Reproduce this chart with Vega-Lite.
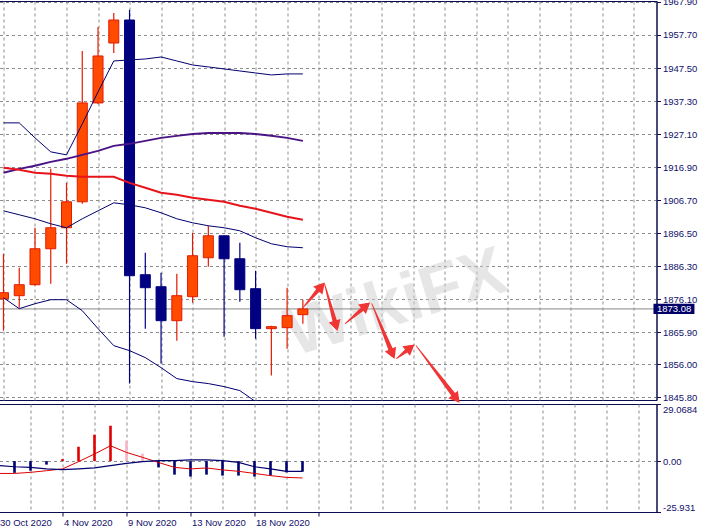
{
  "$schema": "https://vega.github.io/schema/vega-lite/v6.json",
  "background": "white",
  "padding": {"left": -4.5, "top": -4, "right": 0, "bottom": 0},
  "autosize": {"type": "pad"},
  "spacing": 4,
  "bounds": "flush",
  "config": {
    "view": {"stroke": "#0c0c50", "strokeWidth": 1},
    "axis": {"labelFont": "Liberation Sans", "labelFontSize": 9.5, "labelColor": "#10106a", "tickColor": "#0c0c50", "domainColor": "#0c0c50", "gridColor": "#8c8c8c", "gridDash": [3, 3], "gridWidth": 1, "labelOverlap": false, "labelSeparation": 0}
  },
  "datasets": {
    "candles": [
      {"i": 0, "date": "30 Oct 2020", "open": 1876.24, "high": 1890.13, "low": 1866.37, "close": 1878.09, "bbUp": 1930.55, "bbMid": 1903.39, "bbLow": 1876.55, "maP": 1915.12, "maR": 1916.66},
      {"i": 1, "date": "1 Nov 2020", "open": 1877.17, "high": 1885.81, "low": 1873.47, "close": 1880.56, "bbUp": 1930.55, "bbMid": 1902.16, "bbLow": 1873.16, "maP": 1916.35, "maR": 1916.05},
      {"i": 2, "date": "2 Nov 2020", "open": 1880.56, "high": 1898.15, "low": 1880.3, "close": 1891.67, "bbUp": 1925.92, "bbMid": 1900.93, "bbLow": 1874.7, "maP": 1917.28, "maR": 1915.12},
      {"i": 3, "date": "3 Nov 2020", "open": 1891.67, "high": 1916.35, "low": 1880.87, "close": 1898.15, "bbUp": 1921.6, "bbMid": 1899.38, "bbLow": 1875.93, "maP": 1918.51, "maR": 1914.81},
      {"i": 4, "date": "4 Nov 2020", "open": 1898.15, "high": 1912.03, "low": 1887.04, "close": 1906.17, "bbUp": 1920.67, "bbMid": 1898.15, "bbLow": 1875.93, "maP": 1919.44, "maR": 1914.19},
      {"i": 5, "date": "5 Nov 2020", "open": 1906.17, "high": 1952.76, "low": 1905.55, "close": 1936.72, "bbUp": 1930.24, "bbMid": 1900.93, "bbLow": 1872.54, "maP": 1920.67, "maR": 1913.89},
      {"i": 6, "date": "6 Nov 2020", "open": 1936.72, "high": 1960.17, "low": 1936.3, "close": 1951.22, "bbUp": 1940.11, "bbMid": 1903.39, "bbLow": 1866.99, "maP": 1921.91, "maR": 1913.89},
      {"i": 7, "date": "8 Nov 2020", "open": 1955.23, "high": 1964.49, "low": 1952.15, "close": 1962.33, "bbUp": 1949.68, "bbMid": 1905.86, "bbLow": 1861.74, "maP": 1923.45, "maR": 1913.89},
      {"i": 8, "date": "9 Nov 2020", "open": 1962.33, "high": 1965.41, "low": 1850.02, "close": 1883.34, "bbUp": 1949.99, "bbMid": 1905.25, "bbLow": 1860.2, "maP": 1924.07, "maR": 1912.03},
      {"i": 9, "date": "10 Nov 2020", "open": 1883.65, "high": 1890.44, "low": 1866.99, "close": 1879.64, "bbUp": 1950.29, "bbMid": 1904.32, "bbLow": 1858.04, "maP": 1924.99, "maR": 1910.49},
      {"i": 10, "date": "11 Nov 2020", "open": 1879.94, "high": 1884.26, "low": 1856.19, "close": 1869.45, "bbUp": 1950.91, "bbMid": 1902.78, "bbLow": 1854.95, "maP": 1925.92, "maR": 1908.95},
      {"i": 11, "date": "12 Nov 2020", "open": 1869.45, "high": 1883.96, "low": 1863.28, "close": 1877.17, "bbUp": 1949.68, "bbMid": 1900.93, "bbLow": 1851.56, "maP": 1926.54, "maR": 1908.33},
      {"i": 12, "date": "13 Nov 2020", "open": 1876.86, "high": 1896.61, "low": 1875.01, "close": 1889.51, "bbUp": 1948.44, "bbMid": 1899.69, "bbLow": 1850.63, "maP": 1927.15, "maR": 1907.41},
      {"i": 13, "date": "15 Nov 2020", "open": 1888.89, "high": 1898.77, "low": 1886.12, "close": 1895.68, "bbUp": 1947.83, "bbMid": 1898.77, "bbLow": 1850.02, "maP": 1927.46, "maR": 1906.79},
      {"i": 14, "date": "16 Nov 2020", "open": 1895.68, "high": 1895.68, "low": 1864.52, "close": 1888.58, "bbUp": 1947.21, "bbMid": 1898.15, "bbLow": 1849.09, "maP": 1927.46, "maR": 1906.17},
      {"i": 15, "date": "17 Nov 2020", "open": 1888.58, "high": 1893.52, "low": 1875.32, "close": 1879.02, "bbUp": 1946.59, "bbMid": 1897.22, "bbLow": 1847.86, "maP": 1927.46, "maR": 1904.94},
      {"i": 16, "date": "18 Nov 2020", "open": 1879.33, "high": 1884.88, "low": 1863.9, "close": 1866.99, "bbUp": 1945.97, "bbMid": 1895.06, "bbLow": 1844.46, "maP": 1927.15, "maR": 1904.01},
      {"i": 17, "date": "19 Nov 2020", "open": 1866.99, "high": 1867.9, "low": 1852.48, "close": 1867.6, "bbUp": 1945.36, "bbMid": 1893.21, "bbLow": 1841.07, "maP": 1926.54, "maR": 1902.78},
      {"i": 18, "date": "20 Nov 2020", "open": 1867.29, "high": 1879.64, "low": 1860.81, "close": 1871.0, "bbUp": 1945.67, "bbMid": 1892.29, "bbLow": 1838.91, "maP": 1925.92, "maR": 1901.54},
      {"i": 19, "date": "22 Nov 2020", "open": 1871.31, "high": 1875.93, "low": 1868.53, "close": 1873.08, "bbUp": 1945.67, "bbMid": 1891.98, "bbLow": 1838.29, "maP": 1924.99, "maR": 1900.62}
    ],
    "osc": [
      {"i": 0, "hist": -5.75, "c": "neg", "red": -6.3, "navy": -2.3},
      {"i": 1, "hist": -6.0, "c": "neg", "red": -6.3, "navy": -2.9},
      {"i": 2, "hist": -4.9, "c": "neg", "red": -5.75, "navy": -3.2},
      {"i": 3, "hist": -1.8, "c": "neg", "red": -4.9, "navy": -4.0},
      {"i": 4, "hist": 1.0, "c": "up", "red": -4.0, "navy": -4.4},
      {"i": 5, "hist": 7.3, "c": "up", "red": -0.3, "navy": -4.0},
      {"i": 6, "hist": 13.4, "c": "up", "red": 3.6, "navy": -3.5},
      {"i": 7, "hist": 18.0, "c": "up", "red": 7.8, "navy": -2.3},
      {"i": 8, "hist": 10.4, "c": "fall", "red": 4.4, "navy": -1.2},
      {"i": 9, "hist": 3.8, "c": "fall", "red": 1.9, "navy": -0.3},
      {"i": 10, "hist": -3.2, "c": "neg", "red": -0.7, "navy": 0.2},
      {"i": 11, "hist": -6.9, "c": "neg", "red": -3.2, "navy": 0.2},
      {"i": 12, "hist": -7.9, "c": "neg", "red": -4.0, "navy": 0.6},
      {"i": 13, "hist": -6.9, "c": "neg", "red": -3.5, "navy": 0.6},
      {"i": 14, "hist": -7.4, "c": "neg", "red": -4.5, "navy": 0.2},
      {"i": 15, "hist": -7.4, "c": "neg", "red": -5.2, "navy": -0.7},
      {"i": 16, "hist": -7.9, "c": "neg", "red": -6.3, "navy": -2.9},
      {"i": 17, "hist": -7.4, "c": "neg", "red": -7.4, "navy": -4.0},
      {"i": 18, "hist": -5.75, "c": "neg", "red": -8.3, "navy": -5.2},
      {"i": 19, "hist": -5.4, "c": "neg", "red": -8.6, "navy": -5.2}
    ],
    "arrows": [
      {"a": 1, "t": 0, "i": 19.0, "p": 1873.47},
      {"a": 1, "t": 1, "i": 20.17, "p": 1880.02},
      {"a": 2, "t": 0, "i": 20.375, "p": 1880.87},
      {"a": 2, "t": 1, "i": 21.106, "p": 1867.85},
      {"a": 3, "t": 0, "i": 21.6875, "p": 1868.53},
      {"a": 3, "t": 1, "i": 23.01, "p": 1874.02},
      {"a": 4, "t": 0, "i": 23.375, "p": 1874.7},
      {"a": 4, "t": 1, "i": 24.69, "p": 1859.15},
      {"a": 5, "t": 0, "i": 24.94, "p": 1857.73},
      {"a": 5, "t": 1, "i": 25.82, "p": 1861.09},
      {"a": 6, "t": 0, "i": 26.19, "p": 1861.74},
      {"a": 6, "t": 1, "i": 28.74, "p": 1845.39}
    ],
    "heads": [
      {"a": 1, "i": 20.17, "p": 1880.02, "dir": 41},
      {"a": 2, "i": 21.106, "p": 1867.85, "dir": 164},
      {"a": 3, "i": 23.01, "p": 1874.02, "dir": 50},
      {"a": 4, "i": 24.69, "p": 1859.15, "dir": 157},
      {"a": 5, "i": 25.82, "p": 1861.09, "dir": 52},
      {"a": 6, "i": 28.74, "p": 1845.39, "dir": 142}
    ]
  },
  "vconcat": [
    {
      "width": 659,
      "height": 399,
      "layer": [
        {
          "data": {"values": [{"t": "WikiFX", "i": 24.94, "p": 1874.6}]},
          "mark": {"type": "text", "font": "Liberation Sans", "fontSize": 68, "fontWeight": "bold", "angle": -17, "color": "#cfcfcf", "opacity": 0.5, "clip": true},
          "encoding": {
            "x": {"field": "i", "type": "quantitative", "scale": {"domain": [-0.0625, 41.125], "nice": false, "zero": false},
              "axis": {"orient": "bottom", "values": [0,2,4,6,8,10,12,14,16,18,20,22,24,26,28,30,32,34,36,38,40], "tickCount": 40, "grid": true, "labels": false, "ticks": false, "domain": false, "title": null}},
            "y": {"field": "p", "type": "quantitative", "scale": {"domain": [1844.95, 1968.2], "nice": false, "zero": false},
              "axis": {"orient": "right", "values": [1967.9, 1957.7, 1947.5, 1937.3, 1927.1, 1916.9, 1906.7, 1896.5, 1886.3, 1876.1, 1865.9, 1856.0, 1845.8], "tickCount": 30, "format": ".2f", "grid": true, "tickSize": 4, "labelPadding": 2, "labelFlush": false, "labelOverlap": false, "labelBound": false, "title": null}},
            "text": {"field": "t"}
          }
        },
        {
          "data": {"values": [{"p": 1873.08}]},
          "mark": {"type": "rule", "color": "#888888", "strokeWidth": 1},
          "encoding": {"y": {"field": "p", "type": "quantitative", "scale": {"domain": [1844.95, 1968.2], "nice": false, "zero": false}, "title": null}}
        },
        {
          "data": {"name": "candles"},
          "mark": {"type": "rule", "strokeWidth": 1.2, "clip": true},
          "encoding": {
            "x": {"field": "i", "type": "quantitative", "scale": {"domain": [-0.0625, 41.125], "nice": false, "zero": false}, "title": null},
            "y": {"field": "low", "type": "quantitative", "scale": {"domain": [1844.95, 1968.2], "nice": false, "zero": false}, "title": null},
            "y2": {"field": "high"},
            "color": {"condition": {"test": "datum.close >= datum.open", "value": "#e41a00"}, "value": "#000080"}
          }
        },
        {
          "data": {"name": "candles"},
          "mark": {"type": "bar", "size": 10, "strokeWidth": 1, "clip": true},
          "encoding": {
            "x": {"field": "i", "type": "quantitative", "scale": {"domain": [-0.0625, 41.125], "nice": false, "zero": false}, "title": null},
            "y": {"field": "open", "type": "quantitative", "scale": {"domain": [1844.95, 1968.2], "nice": false, "zero": false}, "title": null},
            "y2": {"field": "close"},
            "fill": {"condition": {"test": "datum.close >= datum.open", "value": "#ff4a00"}, "value": "#000080"},
            "stroke": {"condition": {"test": "datum.close >= datum.open", "value": "#e41a00"}, "value": "#000080"}
          }
        },
        {
          "data": {"name": "candles"},
          "mark": {"type": "line", "color": "#000070", "strokeWidth": 1, "clip": true},
          "encoding": {
            "x": {"field": "i", "type": "quantitative", "scale": {"domain": [-0.0625, 41.125], "nice": false, "zero": false}, "title": null},
            "y": {"field": "bbUp", "type": "quantitative", "scale": {"domain": [1844.95, 1968.2], "nice": false, "zero": false}, "title": null}
          }
        },
        {
          "data": {"name": "candles"},
          "mark": {"type": "line", "color": "#000070", "strokeWidth": 1, "clip": true},
          "encoding": {
            "x": {"field": "i", "type": "quantitative", "scale": {"domain": [-0.0625, 41.125], "nice": false, "zero": false}, "title": null},
            "y": {"field": "bbMid", "type": "quantitative", "scale": {"domain": [1844.95, 1968.2], "nice": false, "zero": false}, "title": null}
          }
        },
        {
          "data": {"name": "candles"},
          "mark": {"type": "line", "color": "#000070", "strokeWidth": 1, "clip": true},
          "encoding": {
            "x": {"field": "i", "type": "quantitative", "scale": {"domain": [-0.0625, 41.125], "nice": false, "zero": false}, "title": null},
            "y": {"field": "bbLow", "type": "quantitative", "scale": {"domain": [1844.95, 1968.2], "nice": false, "zero": false}, "title": null}
          }
        },
        {
          "data": {"name": "candles"},
          "mark": {"type": "line", "color": "#4b1485", "strokeWidth": 2, "clip": true},
          "encoding": {
            "x": {"field": "i", "type": "quantitative", "scale": {"domain": [-0.0625, 41.125], "nice": false, "zero": false}, "title": null},
            "y": {"field": "maP", "type": "quantitative", "scale": {"domain": [1844.95, 1968.2], "nice": false, "zero": false}, "title": null}
          }
        },
        {
          "data": {"name": "candles"},
          "mark": {"type": "line", "color": "#e8141c", "strokeWidth": 2, "clip": true},
          "encoding": {
            "x": {"field": "i", "type": "quantitative", "scale": {"domain": [-0.0625, 41.125], "nice": false, "zero": false}, "title": null},
            "y": {"field": "maR", "type": "quantitative", "scale": {"domain": [1844.95, 1968.2], "nice": false, "zero": false}, "title": null}
          }
        },
        {
          "data": {"name": "arrows"},
          "mark": {"type": "trail", "color": "#f03535"},
          "encoding": {
            "x": {"field": "i", "type": "quantitative", "scale": {"domain": [-0.0625, 41.125], "nice": false, "zero": false}, "title": null},
            "y": {"field": "p", "type": "quantitative", "scale": {"domain": [1844.95, 1968.2], "nice": false, "zero": false}, "title": null},
            "size": {"field": "t", "type": "quantitative", "scale": {"domain": [0, 1], "range": [0.8, 5]}, "legend": null},
            "detail": {"field": "a", "type": "nominal"},
            "order": {"field": "t", "type": "quantitative"}
          }
        },
        {
          "data": {"name": "heads"},
          "mark": {"type": "point", "shape": "triangle-up", "filled": true, "size": 150, "color": "#f03535", "opacity": 1},
          "encoding": {
            "x": {"field": "i", "type": "quantitative", "scale": {"domain": [-0.0625, 41.125], "nice": false, "zero": false}, "title": null},
            "y": {"field": "p", "type": "quantitative", "scale": {"domain": [1844.95, 1968.2], "nice": false, "zero": false}, "title": null},
            "angle": {"field": "dir", "type": "quantitative", "scale": null}
          }
        },
        {
          "data": {"values": [{"i": 41.25, "i2": 43.85, "p": 1871.55, "p2": 1874.65}]},
          "mark": {"type": "rect", "color": "#000066"},
          "encoding": {
            "x": {"field": "i", "type": "quantitative", "scale": {"domain": [-0.0625, 41.125], "nice": false, "zero": false}, "title": null},
            "x2": {"field": "i2"},
            "y": {"field": "p", "type": "quantitative", "scale": {"domain": [1844.95, 1968.2], "nice": false, "zero": false}, "title": null},
            "y2": {"field": "p2"}
          }
        },
        {
          "data": {"values": [{"i": 42.56, "p": 1873.08, "t": "1873.08"}]},
          "mark": {"type": "text", "color": "white", "font": "Liberation Sans", "fontSize": 9.5, "align": "center", "baseline": "middle"},
          "encoding": {
            "x": {"field": "i", "type": "quantitative", "scale": {"domain": [-0.0625, 41.125], "nice": false, "zero": false}, "title": null},
            "y": {"field": "p", "type": "quantitative", "scale": {"domain": [1844.95, 1968.2], "nice": false, "zero": false}, "title": null},
            "text": {"field": "t"}
          }
        }
      ]
    },
    {
      "width": 659,
      "height": 108,
      "data": {"name": "osc"},
      "layer": [
        {
          "mark": {"type": "rule", "strokeWidth": 2.6},
          "encoding": {
            "x": {"field": "i", "type": "quantitative", "scale": {"domain": [-0.0625, 41.125], "nice": false, "zero": false},
              "axis": {"orient": "bottom", "values": [0,2,4,6,8,10,12,14,16,18,20,22,24,26,28,30,32,34,36,38,40], "tickCount": 40, "grid": true, "tickSize": 4,
                "tickOpacity": {"condition": {"test": "datum.value % 4 == 0 && datum.value <= 20", "value": 1}, "value": 0},
                "labelExpr": "datum.value == 0 ? '30 Oct 2020' : datum.value == 4 ? '4 Nov 2020' : datum.value == 8 ? '9 Nov 2020' : datum.value == 12 ? '13 Nov 2020' : datum.value == 16 ? '18 Nov 2020' : ''",
                "labelAlign": "left", "labelBaseline": "top", "labelOffset": 1, "labelPadding": 1, "labelFlush": false, "labelOverlap": false, "labelBound": false, "domain": false, "title": null}},
            "y": {"field": "hist", "type": "quantitative", "scale": {"domain": [-25.931, 29.0684], "nice": false, "zero": false},
              "axis": {"orient": "right", "values": [29.0684, 0, -25.931], "tickCount": 10, "grid": true,
                "gridOpacity": {"condition": {"test": "datum.value == 0", "value": 1}, "value": 0},
                "labelExpr": "datum.value > 1 ? '29.0684' : datum.value < -1 ? '-25.931' : '0.00'",
                "tickSize": 4, "labelPadding": 2, "labelFlush": true, "labelOverlap": false, "title": null}},
            "y2": {"datum": 0},
            "color": {"field": "c", "type": "nominal", "scale": {"domain": ["up", "fall", "neg"], "range": ["#e00000", "#f5b5c5", "#00006e"]}, "legend": null}
          }
        },
        {
          "mark": {"type": "line", "color": "#e00000", "strokeWidth": 1},
          "encoding": {
            "x": {"field": "i", "type": "quantitative", "scale": {"domain": [-0.0625, 41.125], "nice": false, "zero": false}, "title": null},
            "y": {"field": "red", "type": "quantitative", "scale": {"domain": [-25.931, 29.0684], "nice": false, "zero": false}, "title": null}
          }
        },
        {
          "mark": {"type": "line", "color": "#00006e", "strokeWidth": 1.2},
          "encoding": {
            "x": {"field": "i", "type": "quantitative", "scale": {"domain": [-0.0625, 41.125], "nice": false, "zero": false}, "title": null},
            "y": {"field": "navy", "type": "quantitative", "scale": {"domain": [-25.931, 29.0684], "nice": false, "zero": false}, "title": null}
          }
        }
      ]
    }
  ]
}
